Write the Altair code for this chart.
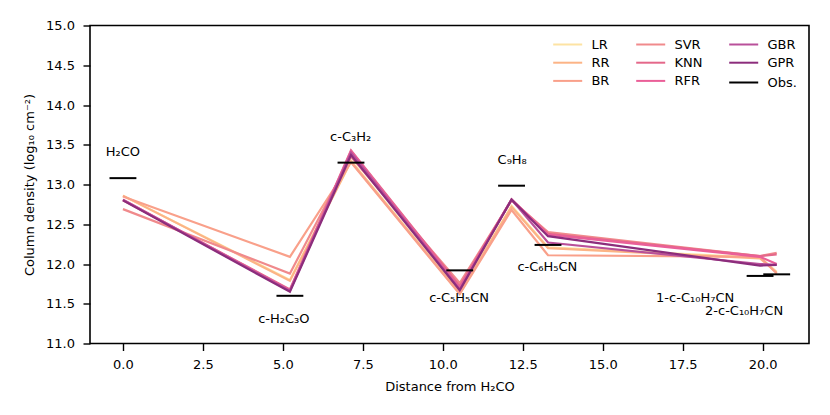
import altair as alt
import pandas as pd

molecules = ["H₂CO", "c-H₂C₃O", "c-C₃H₂", "c-C₅H₅CN", "C₉H₈", "c-C₆H₅CN",
             "1-c-C₁₀H₇CN", "2-c-C₁₀H₇CN"]
distance = [0.0, 5.22, 7.13, 10.53, 12.15, 13.29, 19.92, 20.44]
obs = [13.08, 11.60, 13.275, 11.92, 12.985, 12.24, 11.85, 11.87]

lr = [12.86, 11.80, 13.30, 11.64, 12.73, 12.21, 12.08, 11.90]
rr = [12.86, 11.79, 13.29, 11.63, 12.72, 12.20, 12.07, 11.89]
br = [12.85, 12.09, 13.28, 11.62, 12.68, 12.11, 12.09, 11.88]
svr = [12.69, 11.88, 13.35, 11.76, 12.80, 12.40, 12.10, 12.14]
knn = [12.80, 11.68, 13.43, 11.72, 12.81, 12.38, 12.10, 12.12]
rfr = [12.81, 11.67, 13.42, 11.70, 12.81, 12.37, 12.09, 12.00]
gbr = [12.81, 11.66, 13.40, 11.68, 12.81, 12.27, 12.00, 11.99]
gpr = [12.80, 11.65, 13.37, 11.67, 12.81, 12.35, 11.98, 11.99]

model_names = ["LR", "RR", "BR", "SVR", "KNN", "RFR", "GBR", "GPR"]
model_values = [lr, rr, br, svr, knn, rfr, gbr, gpr]
model_colors = ["#fde3a3", "#fcb486", "#f9a08a", "#f08a8c", "#e4688a",
                "#ea5f98", "#b9509a", "#8c2d7c"]

label_x = [0.0, 5.03, 7.12, 10.51, 12.17, 13.27, 17.89, 19.42]
label_y = [13.41, 11.31, 13.60, 11.575, 13.31, 11.96, 11.575, 11.41]

x_ticks = [0.0, 2.5, 5.0, 7.5, 10.0, 12.5, 15.0, 17.5, 20.0]
y_ticks = [11.0, 11.5, 12.0, 12.5, 13.0, 13.5, 14.0, 14.5, 15.0]

# legend columns as in the original (3 models per column, Obs. last)
legend_columns = [["LR", "RR", "BR"], ["SVR", "KNN", "RFR"], ["GBR", "GPR"]]

rows = []
for name, vals in zip(model_names, model_values):
    for d, v in zip(distance, vals):
        rows.append({"model": name, "distance": d, "value": v})
pred_df = pd.DataFrame(rows)
obs_df = pd.DataFrame({"model": "Obs.", "distance": distance, "value": obs})
lab_df = pd.DataFrame({"label": molecules, "lx": label_x, "ly": label_y})

cmap = dict(zip(model_names, model_colors))

font = "DejaVu Sans"
fs = 13
xscale = alt.Scale(domain=[-1.03, 21.45], nice=False, zero=False)
yscale = alt.Scale(domain=[11.0, 15.0], nice=False, zero=False)

x_axis = alt.Axis(values=x_ticks, format=".1f", title="Distance from H₂CO",
                  titlePadding=9, labelPadding=8)
y_axis = alt.Axis(values=y_ticks, format=".1f",
                  title="Column density (log₁₀ cm⁻²)", titlePadding=9,
                  labelPadding=8.5)

col_x = [470.7, 553.7, 646.7]
row_step = 19


def make_legend(lx, ly):
    return alt.Legend(
        title=None, orient="none", legendX=lx, legendY=ly, columns=1,
        symbolType="M-2.5,0H2.5", symbolSize=134.6, symbolStrokeWidth=2,
        labelFont=font, labelFontSize=fs, labelColor="black",
        labelOffset=16.7, rowPadding=4.2, padding=0,
    )


layers = []
for i, group in enumerate(legend_columns):
    names = list(group)
    layers.append(
        alt.Chart(pred_df).transform_filter(
            alt.FieldOneOfPredicate(field="model", oneOf=names)
        ).mark_line(strokeWidth=2.2).encode(
            x=alt.X("distance:Q", scale=xscale, axis=x_axis),
            y=alt.Y("value:Q", scale=yscale, axis=y_axis),
            color=alt.Color("model:N",
                            scale=alt.Scale(domain=names, range=[cmap[n] for n in names]),
                            legend=make_legend(col_x[i], 12)),
            detail="model:N",
            order=alt.Order("distance:Q"),
        )
    )

obs_rules = alt.Chart(obs_df).transform_calculate(
    x1="datum.distance - 0.42", x2="datum.distance + 0.42"
).mark_rule(strokeWidth=2).encode(
    x=alt.X("x1:Q", scale=xscale, axis=x_axis),
    x2="x2:Q",
    y=alt.Y("value:Q", scale=yscale, axis=y_axis),
    color=alt.Color("model:N", scale=alt.Scale(domain=["Obs."], range=["black"]),
                    legend=make_legend(col_x[2], 12 + 2 * row_step)),
)

labels = alt.Chart(lab_df).mark_text(
    font=font, fontSize=fs, color="black", align="center", baseline="middle"
).encode(
    x=alt.X("lx:Q", scale=xscale, axis=x_axis),
    y=alt.Y("ly:Q", scale=yscale, axis=y_axis),
    text="label:N",
)

chart = alt.layer(*layers, obs_rules, labels).resolve_scale(
    color="independent"
).properties(
    width=719, height=318,
    autosize=alt.AutoSizeParams(type="none"),
    padding={"left": 82, "top": 17.5, "right": 10, "bottom": 60},
).configure_view(
    stroke="black", strokeWidth=1.6
).configure_axis(
    domain=False, grid=False, tickColor="black", tickWidth=1.4, tickSize=7,
    labelFont=font, labelFontSize=fs, labelColor="black",
    titleFont=font, titleFontSize=fs, titleFontWeight="normal", titleColor="black",
)

chart.save("out.html", embed_options={"renderer": "svg", "actions": False})
